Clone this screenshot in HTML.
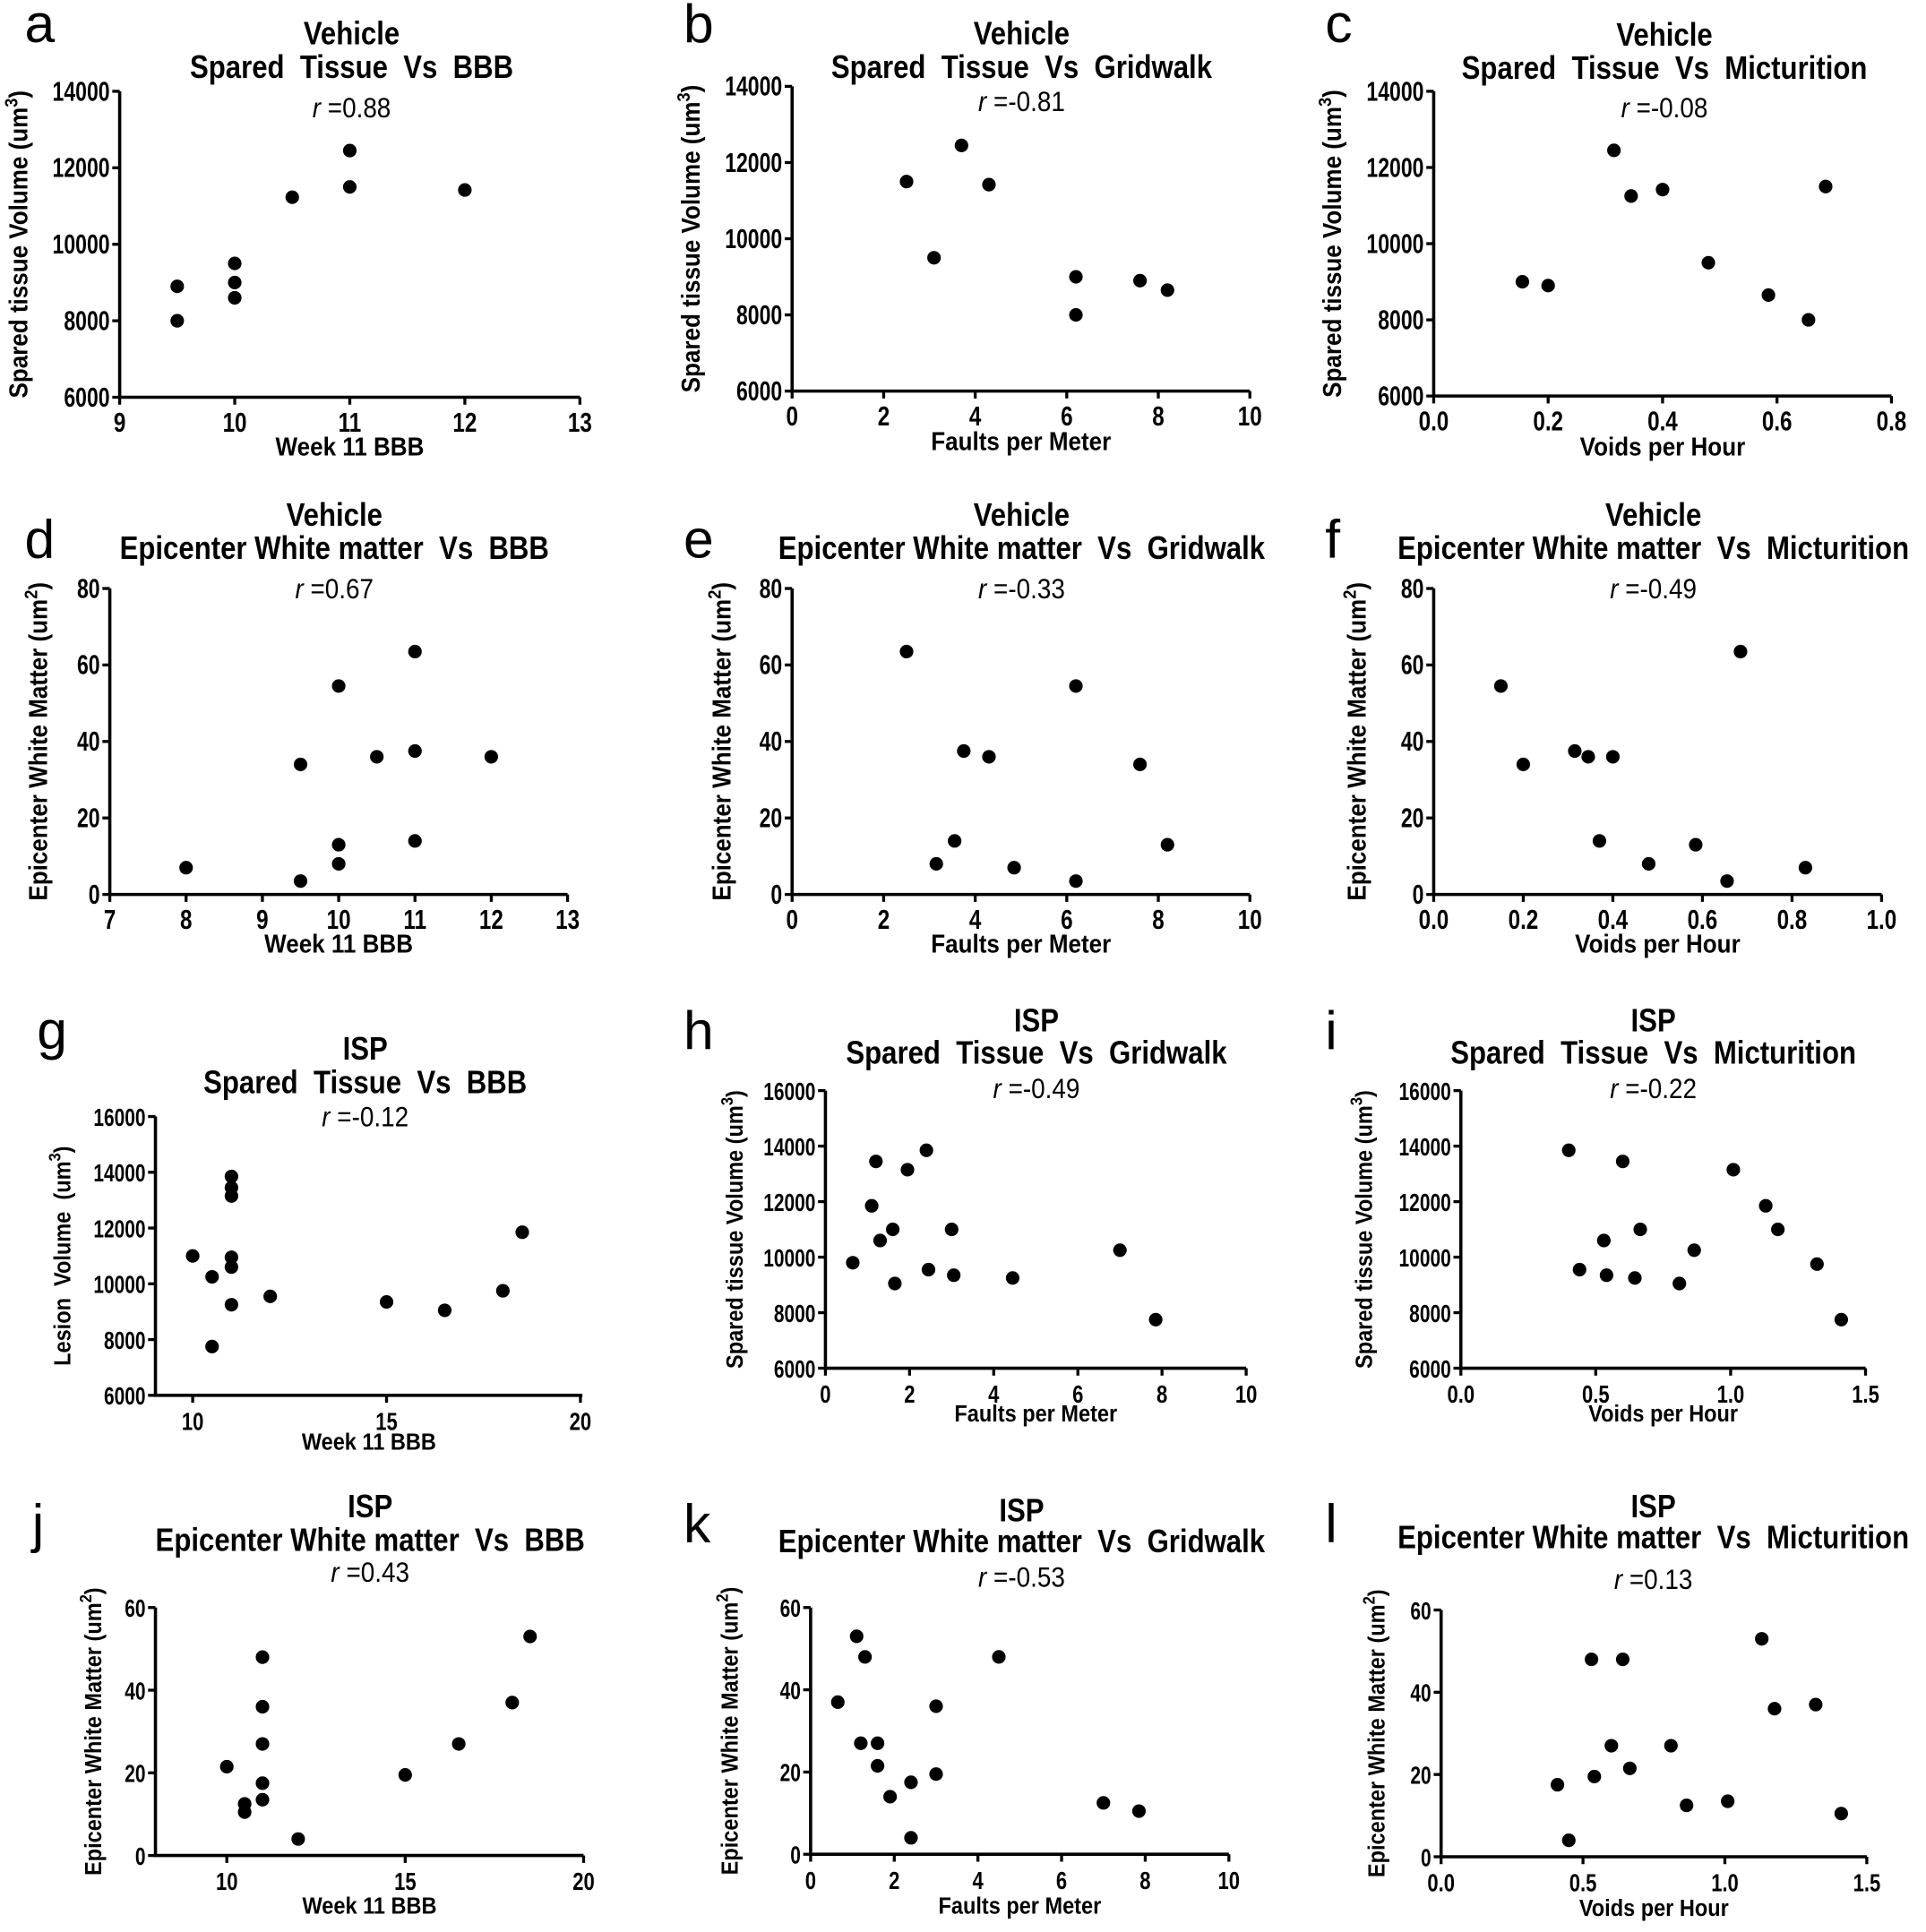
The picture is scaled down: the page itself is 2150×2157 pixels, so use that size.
<!DOCTYPE html>
<html><head><meta charset="utf-8"><style>
html,body{margin:0;padding:0;background:#fff;width:2150px;height:2157px;overflow:hidden}
svg{display:block}
text{font-family:"Liberation Sans",Arial,sans-serif;fill:#000}
</style></head><body>
<svg id="s" width="2150" height="2157" viewBox="0 0 1561 1566" preserveAspectRatio="none" xmlns="http://www.w3.org/2000/svg"></svg>
<script>
const P=[
{L:'a',lx:20,ly:34,ax:97,top:74,bot:322,xr:[9,13],x0:97,x1:470,xt:[9,10,11,12,13],yr:[6000,14000],yt:[6000,8000,10000,12000,14000],
 t1:'Vehicle',t2:'Spared  Tissue  Vs  BBB',tc:285,ty:[36,63,95],r:'0.88',yl:'Spared tissue Volume (um',sup:'3',ylx:22,xl:'Week 11 BBB',xly:369,
 pts:[[9.5,8900],[9.5,8000],[10,9500],[10,9000],[10,8600],[10.5,11230],[11,12450],[11,11500],[12,11420]]},
{L:'b',lx:554,ly:34,ax:642,top:70,bot:317,xr:[0,10],x0:642,x1:1013,xt:[0,2,4,6,8,10],yr:[6000,14000],yt:[6000,8000,10000,12000,14000],
 t1:'Vehicle',t2:'Spared  Tissue  Vs  Gridwalk',tc:828,ty:[36,63,90],r:'-0.81',yl:'Spared tissue Volume (um',sup:'3',ylx:567,xl:'Faults per Meter',xly:365,
 pts:[[2.5,11500],[3.1,9500],[3.7,12450],[4.3,11420],[6.2,9000],[6.2,8000],[7.6,8900],[8.2,8650]]},
{L:'c',lx:1074,ly:34,ax:1162,top:74,bot:321,xr:[0,0.8],x0:1162,x1:1533,xt:[0,0.2,0.4,0.6,0.8],fx:1,yr:[6000,14000],yt:[6000,8000,10000,12000,14000],
 t1:'Vehicle',t2:'Spared  Tissue  Vs  Micturition',tc:1349,ty:[37,64,95],r:'-0.08',yl:'Spared tissue Volume (um',sup:'3',ylx:1087,xl:'Voids per Hour',xly:369,
 pts:[[0.155,9000],[0.2,8900],[0.315,12450],[0.345,11250],[0.4,11420],[0.48,9500],[0.585,8650],[0.655,8000],[0.685,11500]]},
{L:'d',lx:20,ly:452,ax:89,top:477,bot:725,xr:[7,13],x0:89,x1:460,xt:[7,8,9,10,11,12,13],yr:[0,80],yt:[0,20,40,60,80],
 t1:'Vehicle',t2:'Epicenter White matter  Vs  BBB',tc:271,ty:[426,453,485],r:'0.67',yl:'Epicenter White Matter (um',sup:'2',ylx:38,xl:'Week 11 BBB',xly:772,
 pts:[[8,7],[9.5,34],[9.5,3.5],[10,54.5],[10,13],[10,8],[10.5,36],[11,63.5],[11,37.5],[11,14],[12,36]]},
{L:'e',lx:554,ly:452,ax:642,top:477,bot:725,xr:[0,10],x0:642,x1:1013,xt:[0,2,4,6,8,10],yr:[0,80],yt:[0,20,40,60,80],
 t1:'Vehicle',t2:'Epicenter White matter  Vs  Gridwalk',tc:828,ty:[426,453,485],r:'-0.33',yl:'Epicenter White Matter (um',sup:'2',ylx:592,xl:'Faults per Meter',xly:772,
 pts:[[2.5,63.5],[3.15,8],[3.55,14],[3.75,37.5],[4.3,36],[4.85,7],[6.2,54.5],[6.2,3.5],[7.6,34],[8.2,13]]},
{L:'f',lx:1074,ly:452,ax:1162,top:477,bot:725,xr:[0,1],x0:1162,x1:1525,xt:[0,0.2,0.4,0.6,0.8,1.0],fx:1,yr:[0,80],yt:[0,20,40,60,80],
 t1:'Vehicle',t2:'Epicenter White matter  Vs  Micturition',tc:1340,ty:[426,453,485],r:'-0.49',yl:'Epicenter White Matter (um',sup:'2',ylx:1107,xl:'Voids per Hour',xly:772,
 pts:[[0.15,54.5],[0.2,34],[0.315,37.5],[0.345,36],[0.4,36],[0.37,14],[0.48,8],[0.585,13],[0.655,3.5],[0.685,63.5],[0.83,7]]},
{L:'g',lx:30,ly:850,ax:126,top:905,bot:1131,xr:[9.04,20.05],x0:126,x1:472,xt:[10,15,20],yr:[6000,16000],yt:[6000,8000,10000,12000,14000,16000],sm:1,
 t1:'ISP',t2:'Spared  Tissue  Vs  BBB',tc:296,ty:[859,886,913],r:'-0.12',yl:'Lesion  Volume  (um',sup:'3',ylx:57,xl:'Week 11 BBB',xly:1175,
 pts:[[10,11000],[10.5,10250],[10.5,7750],[11,13850],[11,13450],[11,13150],[11,10950],[11,10600],[11,9250],[12,9550],[15,9350],[16.5,9050],[18,9750],[18.5,11850]]},
{L:'h',lx:554,ly:850,ax:669,top:884,bot:1109,xr:[0,10],x0:669,x1:1010,xt:[0,2,4,6,8,10],yr:[6000,16000],yt:[6000,8000,10000,12000,14000,16000],sm:1,
 t1:'ISP',t2:'Spared  Tissue  Vs  Gridwalk',tc:840,ty:[836,862,890],r:'-0.49',yl:'Spared tissue Volume (um',sup:'3',ylx:602,xl:'Faults per Meter',xly:1152,
 pts:[[0.65,9800],[1.1,11850],[1.2,13450],[1.3,10600],[1.6,11000],[1.65,9050],[1.95,13150],[2.4,13850],[2.45,9550],[3,11000],[3.05,9350],[4.45,9250],[7,10250],[7.85,7750]]},
{L:'i',lx:1074,ly:850,ax:1184,top:884,bot:1109,xr:[0,1.5],x0:1184,x1:1512,xt:[0,0.5,1.0,1.5],fx:1,yr:[6000,16000],yt:[6000,8000,10000,12000,14000,16000],sm:1,
 t1:'ISP',t2:'Spared  Tissue  Vs  Micturition',tc:1340,ty:[836,862,890],r:'-0.22',yl:'Spared tissue Volume (um',sup:'3',ylx:1112,xl:'Voids per Hour',xly:1152,
 pts:[[0.4,13850],[0.44,9550],[0.53,10600],[0.54,9350],[0.6,13450],[0.645,9250],[0.665,11000],[0.81,9050],[0.865,10250],[1.01,13150],[1.13,11850],[1.175,11000],[1.32,9750],[1.41,7750]]},
{L:'j',lx:26,ly:1250,ax:126,top:1303,bot:1504,xr:[8,20],x0:126,x1:473,xt:[10,15,20],yr:[0,60],yt:[0,20,40,60],sm:1,
 t1:'ISP',t2:'Epicenter White matter  Vs  BBB',tc:300,ty:[1230,1257,1282],r:'0.43',yl:'Epicenter White Matter (um',sup:'2',ylx:82,xl:'Week 11 BBB',xly:1551,
 pts:[[10,21.5],[10.5,12.5],[10.5,10.5],[11,48],[11,36],[11,27],[11,17.5],[11,13.5],[12,4],[15,19.5],[16.5,27],[18,37],[18.5,53]]},
{L:'k',lx:554,ly:1250,ax:657,top:1303,bot:1503,xr:[0,10],x0:657,x1:996,xt:[0,2,4,6,8,10],yr:[0,60],yt:[0,20,40,60],sm:1,
 t1:'ISP',t2:'Epicenter White matter  Vs  Gridwalk',tc:828,ty:[1233,1258,1286],r:'-0.53',yl:'Epicenter White Matter (um',sup:'2',ylx:598,xl:'Faults per Meter',xly:1551,
 pts:[[0.65,37],[1.1,53],[1.2,27],[1.3,48],[1.6,27],[1.6,21.5],[1.9,14],[2.4,17.5],[2.4,4],[3,36],[3,19.5],[4.5,48],[7,12.5],[7.85,10.5]]},
{L:'l',lx:1074,ly:1250,ax:1168,top:1305,bot:1505,xr:[0,1.5],x0:1168,x1:1513,xt:[0,0.5,1.0,1.5],fx:1,yr:[0,60],yt:[0,20,40,60],sm:1,
 t1:'ISP',t2:'Epicenter White matter  Vs  Micturition',tc:1340,ty:[1230,1255,1288],r:'0.13',yl:'Epicenter White Matter (um',sup:'2',ylx:1122,xl:'Voids per Hour',xly:1553,
 pts:[[0.41,17.5],[0.45,4],[0.53,48],[0.54,19.5],[0.6,27],[0.64,48],[0.665,21.5],[0.81,27],[0.865,12.5],[1.01,13.5],[1.13,53],[1.175,36],[1.32,37],[1.41,10.5]]}
];
function T(x,y,content,fs,sx,anchor,bold,rot){
 return `<g transform="translate(${x},${y})${rot?' rotate(-90)':''} scale(${sx},1)"><text x="0" y="0" font-size="${fs}"${bold?' font-weight="bold"':''} text-anchor="${anchor}" xml:space="preserve">${content}</text></g>`;
}
let h='';
for(const p of P){
 const X=v=>p.x0+(v-p.xr[0])/(p.xr[1]-p.xr[0])*(p.x1-p.x0);
 const Y=v=>p.bot-(v-p.yr[0])/(p.yr[1]-p.yr[0])*(p.bot-p.top);
 const tf=p.sm?20:22, lf=p.sm?19:21;
 h+=`<text x="${p.lx}" y="${p.ly}" font-size="44">${p.L}</text>`;
 h+=T(p.tc,p.ty[0],p.t1,26,0.87,'middle',1);
 h+=T(p.tc,p.ty[1],p.t2,26,0.87,'middle',1);
 h+=T(p.tc,p.ty[2],`<tspan font-style="italic">r</tspan> =${p.r}`,23,0.88,'middle',0);
 h+=`<path d="M${p.ax} ${p.top}V${p.bot}H${p.x1}" fill="none" stroke="#000" stroke-width="2.6"/>`;
 for(const t of p.yt){const y=Y(t);h+=`<line x1="${p.ax-6}" x2="${p.ax}" y1="${y}" y2="${y}" stroke="#000" stroke-width="2.4"/>`+T(p.ax-8,y+7.5,t,tf,0.76,'end',1);}
 for(const t of p.xt){const x=X(t);h+=`<line x1="${x}" x2="${x}" y1="${p.bot}" y2="${p.bot+6}" stroke="#000" stroke-width="2.4"/>`+T(x,p.bot+28,p.fx?t.toFixed(1):t,tf,0.8,'middle',1);}
 const yc=(p.top+p.bot)/2;
 h+=T(p.ylx,yc,`${p.yl}<tspan font-size="${lf*0.7}" dy="-8">${p.sup}</tspan><tspan dy="8">)</tspan>`,lf,0.9,'middle',1,1);
 h+=T((p.ax+p.x1)/2,p.xly,p.xl,lf,0.9,'middle',1);
 for(const [a,b] of p.pts)h+=`<circle cx="${X(a)}" cy="${Y(b)}" r="5.5"/>`;
}
document.getElementById('s').innerHTML=h;
</script>
</body></html>
